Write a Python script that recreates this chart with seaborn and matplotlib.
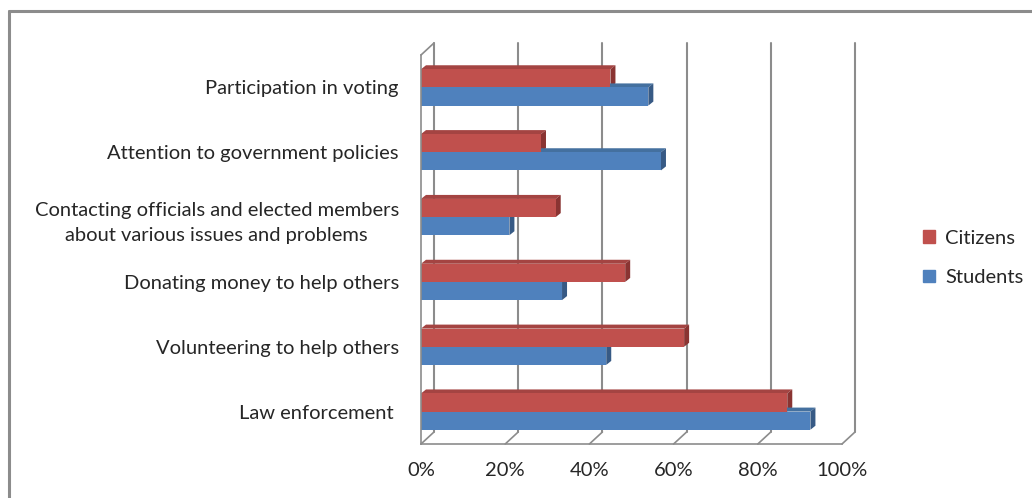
import matplotlib
matplotlib.use("Agg")
import matplotlib.pyplot as plt
from matplotlib.lines import Line2D
from matplotlib.patches import Polygon
from matplotlib.transforms import IdentityTransform
import seaborn as sns
import pandas as pd
import numpy as np

# data (percent)
categories = ["Participation in voting",
              "Attention to government policies",
              "Contacting officials and elected members\nabout various issues and problems",
              "Donating money to help others",
              "Volunteering to help others",
              "Law enforcement "]
citizens = [45, 28.5, 32, 48.5, 62.5, 87]
students = [54, 57, 21, 33.5, 44, 92.5]
series = ["Citizens", "Students"]
xticks = [0, 20, 40, 60, 80, 100]

df = pd.DataFrame({"category": categories * 2,
                   "value": citizens + students,
                   "series": ["Citizens"] * len(categories) + ["Students"] * len(categories)})

red = "#C0504D"
blue = "#4F81BD"
face_colors = {"Citizens": ("#A44442", "#8A3432"), "Students": ("#44709F", "#375A85")}
grey = "#8C8C8C"
text_col = "#262626"
fs = 14.5

sns.set_style("white")
plt.rcParams["font.family"] = ["Lato", "DejaVu Sans"]

W, H = 1032, 498
fig = plt.figure(figsize=(W / 100, H / 100), dpi=100)
# front plane of the 3D plot area, in pixels
x0, x1, ytop, ybot = 421, 842, 55, 444
ax = fig.add_axes([x0 / W, 1 - ybot / H, (x1 - x0) / W, (ybot - ytop) / H])

sns.barplot(data=df, y="category", x="value", hue="series", hue_order=series,
            palette=[red, blue], saturation=1, orient="h", width=0.56,
            linewidth=0, ax=ax, legend=False)

ax.set_xlim(0, 100)
ax.set_ylim(len(categories) - 0.5, -0.5)
ax.set_xlabel("")
ax.set_ylabel("")
ax.set_xticks(xticks)
ax.set_xticklabels([f"{t}%" for t in xticks], fontsize=fs, color=text_col)
ax.tick_params(axis="x", length=0, pad=13)
ax.tick_params(axis="y", length=0, pad=16)
for lab in ax.get_yticklabels():
    lab.set_fontsize(fs)
    lab.set_color(text_col)
    lab.set_multialignment("center")
    lab.set_linespacing(1.6)
ax.set_yticks(np.arange(len(categories) + 1) - 0.5, minor=True)
ax.tick_params(axis="y", which="minor", length=5, width=1, color=grey)
for s in ["top", "right"]:
    ax.spines[s].set_visible(False)
for s in ["left", "bottom"]:
    ax.spines[s].set_color(grey)
    ax.spines[s].set_linewidth(1.2)
ax.patch.set_alpha(0)

# 3D look: back wall gridlines, floor diagonals, bar faces
fig.canvas.draw()
dx, dy = 13, 12
T = ax.transData
ident = IdentityTransform()
yb_disp = ax.transAxes.transform((0, 0))[1]
yt_disp = ax.transAxes.transform((0, 1))[1]
for t in xticks:
    xf = T.transform((t, 0))[0]
    ax.add_line(Line2D([xf + dx, xf + dx], [yb_disp + dy, yt_disp + dy], color=grey, lw=1.5,
                       transform=ident, clip_on=False, zorder=0.5))
    ax.add_line(Line2D([xf, xf + dx], [yb_disp, yb_disp + dy], color=grey, lw=1.2,
                       transform=ident, clip_on=False, zorder=0.5))
xl = T.transform((0, 0))[0]
ax.add_line(Line2D([xl, xl + dx], [yt_disp, yt_disp + dy], color=grey, lw=1.2,
                   transform=ident, clip_on=False, zorder=0.5))

bdx, bdy = 5, 4
n = len(categories)
for i, p in enumerate(ax.patches[:2 * n]):
    name = series[i // n]
    top_c, side_c = face_colors[name]
    (ax0, ay0) = T.transform((p.get_x(), p.get_y()))
    (ax1, ay1) = T.transform((p.get_x() + p.get_width(), p.get_y() + p.get_height()))
    lo, hi = min(ay0, ay1), max(ay0, ay1)
    left, right = min(ax0, ax1), max(ax0, ax1)
    top = Polygon([(left, hi), (right, hi), (right + bdx, hi + bdy), (left + bdx, hi + bdy)],
                  closed=True, facecolor=top_c, edgecolor="none", transform=ident,
                  clip_on=False, zorder=0.9)
    side = Polygon([(right, lo), (right, hi), (right + bdx, hi + bdy), (right + bdx, lo + bdy)],
                   closed=True, facecolor=side_c, edgecolor="none", transform=ident,
                   clip_on=False, zorder=0.9)
    ax.add_patch(top)
    ax.add_patch(side)

handles = [plt.Rectangle((0, 0), 1, 1, color=c) for c in [red, blue]]
fig.legend(handles, series, loc="center left", bbox_to_anchor=(905 / W, 1 - 258 / H),
           frameon=False, fontsize=fs, handlelength=0.6, handleheight=0.6,
           handletextpad=0.5, labelspacing=1.1, labelcolor=text_col)

# outer chart border (left and top visible)
fig.add_artist(Line2D([9 / W, 9 / W], [0, 1 - 11 / H], color=grey, lw=2.2, transform=fig.transFigure))
fig.add_artist(Line2D([9 / W, 1], [1 - 11 / H, 1 - 11 / H], color=grey, lw=2.2, transform=fig.transFigure))

fig.savefig("out.png", dpi=100)
